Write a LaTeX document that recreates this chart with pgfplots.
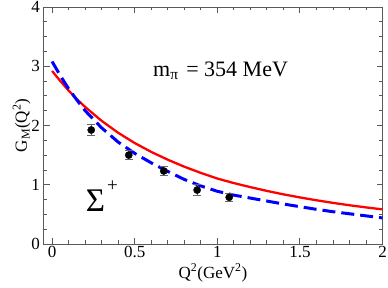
\documentclass[border=0pt]{standalone}
\usepackage{pgfplots}
\pgfplotsset{compat=1.18}
\usepackage{fontspec}
\setmainfont{Liberation Serif}
\begin{document}
\begin{tikzpicture}
\path[use as bounding box] (-43.5pt,-44pt) rectangle (344.5pt,244pt);
\begin{axis}[
  at={(0pt,0pt)}, anchor=south west,
  scale only axis,
  width=339pt, height=237pt,
  xmin=-0.052, xmax=2, ymin=0, ymax=4,
  xtick={0,0.5,1,1.5,2},
  xticklabels={0,0.5,1,1.5,2},
  ytick={0,1,2,3,4},
  minor x tick num=4,
  minor y tick num=3,
  tick align=inside,
  major tick length=6pt,
  minor tick length=3.5pt,
  axis line style={black!65, line width=0.9pt},
  every tick/.style={black!65, line width=0.8pt},
  /pgf/number format/assume math mode=true,
  tick label style={font=\fontsize{17}{20}\selectfont, black},
  xticklabel style={yshift=1pt},
  yticklabel style={xshift=0pt},
  xlabel={Q\textsuperscript{2}(GeV\textsuperscript{2})},
  ylabel={G\textsubscript{M}(Q\textsuperscript{2})},
  label style={font=\fontsize{17}{20}\selectfont},
  xlabel style={yshift=1pt},
  ylabel style={yshift=-6pt},
  clip=true,
]
\addplot[red, line width=2.3pt, no marks] coordinates {
(0,2.92) (0.05,2.75) (0.1,2.59) (0.15,2.445) (0.2,2.313) (0.3,2.078) (0.4,1.877)
(0.5,1.704) (0.6,1.554) (0.7,1.423) (0.8,1.305) (0.9,1.200) (1.0,1.105)
(1.1,1.028) (1.2,0.960) (1.3,0.896) (1.4,0.838) (1.5,0.786) (1.6,0.738)
(1.7,0.694) (1.8,0.654) (1.9,0.618) (2.0,0.584)
};
\addplot[blue, line width=3pt, dash pattern=on 13pt off 6pt, no marks] coordinates {
(0,3.08) (0.05,2.84) (0.1,2.62) (0.15,2.43) (0.2,2.25) (0.3,1.96) (0.4,1.72)
(0.5,1.53) (0.6,1.37) (0.7,1.225) (0.8,1.09) (0.9,0.98) (1.0,0.89)
(1.1,0.825) (1.2,0.775) (1.3,0.725) (1.4,0.675) (1.5,0.63) (1.6,0.585)
(1.7,0.545) (1.8,0.51) (1.9,0.475) (2.0,0.44)
};
\addplot[only marks, mark=*, mark size=3.6pt, black,
  error bars/.cd, y dir=both, y explicit,
  error bar style={black!60, line width=0.9pt},
  error mark options={black!60, line width=0.9pt, mark size=4pt, rotate=90}]
coordinates {
(0.237,1.924) +- (0,0.10)
(0.464,1.50) +- (0,0.08)
(0.676,1.232) +- (0,0.08)
(0.878,0.911) +- (0,0.09)
(1.072,0.788) +- (0,0.07)
};
\node[anchor=base west, inner sep=0pt, font=\fontsize{22}{24}\selectfont]
  at (axis cs:0.611,2.824) {m\textsubscript{π}\hspace{0.35em}= 354 MeV};
\node[anchor=base west, inner sep=0pt, font=\fontsize{33}{36}\selectfont]
  at (axis cs:0.203,0.545) {Σ\hspace{2pt}\raisebox{20pt}{\fontsize{19}{19}\selectfont +}};
\end{axis}
\end{tikzpicture}
\end{document}
